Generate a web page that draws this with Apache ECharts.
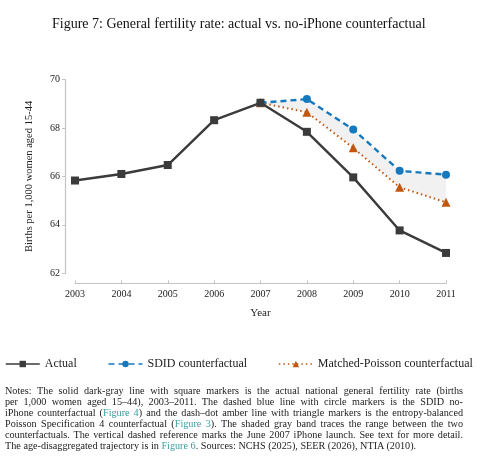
<!DOCTYPE html>
<html>
<head>
<meta charset="utf-8">
<script src="https://cdn.jsdelivr.net/npm/echarts@6/dist/echarts.min.js"></script>
<style>
  html, body { margin: 0; padding: 0; background: #fff; }
  #wrap { position: relative; width: 496px; height: 465px; overflow: hidden; }
  #chart { position: absolute; left: 0; top: 0; width: 496px; height: 465px; }
  #notes { position: absolute; left: 5px; top: 385px; width: 458px;
           font-family: "Liberation Serif", serif; font-size: 10.2px; line-height: 11.1px; color: #222; }
  #notes div { white-space: nowrap; text-align: justify; text-align-last: justify; }
  #notes div.last { text-align-last: left; }
  #notes span { color: #3a9c9f; }
</style>
</head>
<body>
<div id="wrap">
  <div id="chart"></div>
  <div id="notes">
    <div>Notes: The solid dark-gray line with square markers is the actual national general fertility rate (births</div>
    <div>per 1,000 women aged 15–44), 2003–2011. The dashed blue line with circle markers is the SDID no-</div>
    <div>iPhone counterfactual (<span>Figure 4</span>) and the dash–dot amber line with triangle markers is the entropy-balanced</div>
    <div>Poisson Specification 4 counterfactual (<span>Figure 3</span>). The shaded gray band traces the range between the two</div>
    <div>counterfactuals. The vertical dashed reference marks the June 2007 iPhone launch. See text for more detail.</div>
    <div class="last">The age-disaggregated trajectory is in <span>Figure 6</span>. Sources: NCHS (2025), SEER (2026), NTIA (2010).</div>
  </div>
</div>
<script>
// Data
const years = ['2003', '2004', '2005', '2006', '2007', '2008', '2009', '2010', '2011'];
const actual = [65.83, 66.10, 66.47, 68.32, 69.04, 67.84, 65.96, 63.77, 62.84];
const sdid = [null, null, null, null, 69.04, 69.19, 67.94, 66.23, 66.07];
const matched = [null, null, null, null, 69.04, 68.65, 67.18, 65.55, 64.93];
const yTicks = [62, 64, 66, 68, 70];

const serif = '"Liberation Serif", "Times New Roman", serif';
const darkGray = '#3b3b3b';
const blue = '#1679bd';
const amber = '#c0570f';

// band = matched (bottom) + gap up to sdid
const bandGap = sdid.map((v, i) => v == null ? null : +(v - matched[i]).toFixed(3));

let chart = echarts.init(document.getElementById('chart'));

let option = {
    animation: false,
    title: {
        text: 'Figure 7: General fertility rate: actual vs. no-iPhone counterfactual',
        left: 47,
        top: 12,
        textStyle: { fontFamily: serif, fontSize: 14, fontWeight: 'normal', color: '#111' }
    },
    legend: {
        data: ['Actual', 'SDID counterfactual', 'Matched-Poisson counterfactual'],
        left: 0,
        top: 353,
        itemWidth: 34,
        itemHeight: 8,
        itemGap: 31,
        textStyle: { fontFamily: serif, fontSize: 12, color: '#222' },
        lineStyle: { width: 1.5 }
    },
    grid: { left: 75, right: 50, top: 79.5, bottom: 191.7 },
    xAxis: {
        type: 'category',
        data: years,
        boundaryGap: false,
        offset: 10,
        name: 'Year',
        nameLocation: 'middle',
        nameGap: 24,
        nameTextStyle: { fontFamily: serif, fontSize: 11, color: '#222' },
        axisLine: { lineStyle: { color: '#c4c4c4', width: 1.2 } },
        axisTick: { inside: true, length: 3, lineStyle: { color: '#c4c4c4' } },
        axisLabel: { fontFamily: serif, fontSize: 10, color: '#222', margin: 6 },
        splitLine: { show: false }
    },
    yAxis: {
        type: 'value',
        min: 62,
        max: 70,
        interval: 2,
        offset: 10,
        name: 'Births per 1,000 women aged 15-44',
        nameLocation: 'middle',
        nameGap: 30,
        nameTextStyle: { fontFamily: serif, fontSize: 10.5, color: '#222' },
        axisLine: { show: true, lineStyle: { color: '#c4c4c4', width: 1.2 } },
        axisTick: { show: true, length: 3, lineStyle: { color: '#c4c4c4' } },
        axisLabel: {
            fontFamily: serif, fontSize: 10, color: '#222', margin: 5,
            formatter: v => yTicks.includes(v) ? String(v) : ''
        },
        splitLine: { show: false }
    },
    series: [
        {
            name: 'band-base',
            type: 'line',
            stack: 'band',
            data: matched,
            symbol: 'none',
            lineStyle: { opacity: 0 },
            silent: true,
            z: 1
        },
        {
            name: 'band-gap',
            type: 'line',
            stack: 'band',
            data: bandGap,
            symbol: 'none',
            lineStyle: { opacity: 0 },
            areaStyle: { color: '#f1f1f1', opacity: 1 },
            silent: true,
            z: 1
        },
        {
            name: 'Matched-Poisson counterfactual',
            type: 'line',
            data: matched,
            color: amber,
            symbol: 'triangle',
            symbolSize: 9,
            lineStyle: { width: 2, type: [1.5, 3], color: amber },
            itemStyle: { color: amber },
            z: 3
        },
        {
            name: 'SDID counterfactual',
            type: 'line',
            data: sdid,
            color: blue,
            symbol: 'circle',
            symbolSize: 8,
            lineStyle: { width: 2.4, type: [6, 4], color: blue },
            itemStyle: { color: blue },
            z: 4
        },
        {
            name: 'Actual',
            type: 'line',
            data: actual,
            color: darkGray,
            symbol: 'rect',
            symbolSize: 8,
            lineStyle: { width: 2.4, color: darkGray },
            itemStyle: { color: darkGray },
            z: 5,
            markLine: {
                silent: true,
                symbol: 'none',
                label: { show: false },
                lineStyle: { color: '#b0b0b0', type: [5, 4], width: 1 },
                data: [[{ coord: ['2007', 70.55] }, { coord: ['2007', 61.6] }]]
            }
        }
    ]
};

chart.setOption(option);
</script>
</body>
</html>
